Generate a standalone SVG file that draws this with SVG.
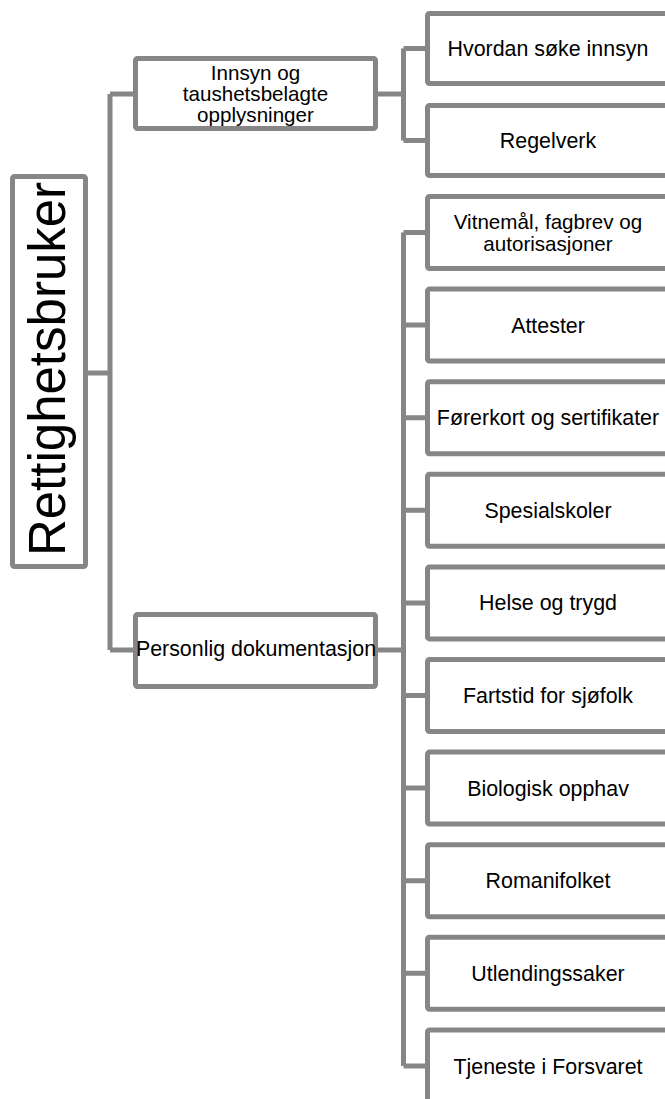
<svg xmlns="http://www.w3.org/2000/svg" width="665" height="1099" viewBox="0 0 665 1099">
<style>
.box{fill:#fff;stroke:#868686;stroke-width:5;}
.con{fill:none;stroke:#868686;stroke-width:5;stroke-linejoin:round;}
.t{font-family:"Liberation Sans",Arial,sans-serif;font-size:21.4px;fill:#000;text-anchor:middle;}
.m{font-size:20.6px;}
.root{font-family:"Liberation Sans",Arial,sans-serif;font-size:51px;fill:#000;text-anchor:middle;}
</style>
<rect width="665" height="1099" fill="#fff"/>
<g id="connectors">
<path class="con" d="M88,373 H110 M110,94 V650 M110,94 H135 M110,650 H135"/>
<path class="con" d="M378,94 H403.5 M403.5,48.5 V140.5 M403.5,48.5 H427 M403.5,140.5 H427"/>
<path class="con" d="M378,650 H403.5 M403.5,232.5 V1066"/>
<path class="con" d="M403.5,232.5 H427 M403.5,325.1 H427 M403.5,417.7 H427 M403.5,510.3 H427 M403.5,602.9 H427 M403.5,695.5 H427 M403.5,788.1 H427 M403.5,880.7 H427 M403.5,973.3 H427 M403.5,1066 H427"/>
</g>
<g id="root">
<rect class="box" x="12.5" y="176.5" width="73" height="390" rx="2"/>
<text class="root" transform="translate(65,369) rotate(-90)">Rettighetsbruker</text>
</g>
<g id="innsyn">
<rect class="box" x="135.5" y="58.5" width="240" height="70" rx="2"/>
<text class="t m" x="255.5" y="80">Innsyn og</text>
<text class="t m" x="255.5" y="101">taushetsbelagte</text>
<text class="t m" x="255.5" y="122">opplysninger</text>
</g>
<g id="personlig">
<rect class="box" x="135.5" y="614.5" width="240" height="72" rx="2"/>
<text class="t" x="256" y="656">Personlig dokumentasjon</text>
</g>
<g id="hvordan">
<rect class="box" x="427.5" y="13.5" width="260" height="70" rx="2"/>
<text class="t" x="548" y="56">Hvordan søke innsyn</text>
</g>
<g id="regelverk">
<rect class="box" x="427.5" y="105.5" width="260" height="70" rx="2"/>
<text class="t" x="548" y="148">Regelverk</text>
</g>
<g id="vitnemal">
<rect class="box" x="427.5" y="196.5" width="260" height="72" rx="2"/>
<text class="t m" x="548" y="229">Vitnemål, fagbrev og</text>
<text class="t m" x="548" y="251">autorisasjoner</text>
</g>
<g id="attester">
<rect class="box" x="427.5" y="289.1" width="260" height="72" rx="2"/>
<text class="t" x="548" y="332.6">Attester</text>
</g>
<g id="forerkort">
<rect class="box" x="427.5" y="381.7" width="260" height="72" rx="2"/>
<text class="t" x="548" y="425.2">Førerkort og sertifikater</text>
</g>
<g id="spesialskoler">
<rect class="box" x="427.5" y="474.3" width="260" height="72" rx="2"/>
<text class="t" x="548" y="517.8">Spesialskoler</text>
</g>
<g id="helse">
<rect class="box" x="427.5" y="566.9" width="260" height="72" rx="2"/>
<text class="t" x="548" y="610.4">Helse og trygd</text>
</g>
<g id="fartstid">
<rect class="box" x="427.5" y="659.5" width="260" height="72" rx="2"/>
<text class="t" x="548" y="703">Fartstid for sjøfolk</text>
</g>
<g id="biologisk">
<rect class="box" x="427.5" y="752.1" width="260" height="72" rx="2"/>
<text class="t" x="548" y="795.6">Biologisk opphav</text>
</g>
<g id="romanifolket">
<rect class="box" x="427.5" y="844.7" width="260" height="72" rx="2"/>
<text class="t" x="548" y="888.2">Romanifolket</text>
</g>
<g id="utlendingssaker">
<rect class="box" x="427.5" y="937.3" width="260" height="72" rx="2"/>
<text class="t" x="548" y="980.8">Utlendingssaker</text>
</g>
<g id="tjeneste">
<rect class="box" x="427.5" y="1030" width="260" height="72" rx="2"/>
<text class="t" x="548" y="1073.5">Tjeneste i Forsvaret</text>
</g>
</svg>
